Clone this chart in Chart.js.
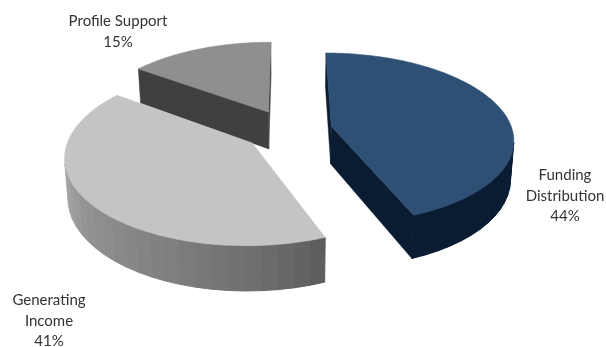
<!DOCTYPE html>
<html>
<head>
<meta charset="utf-8">
<style>
  html, body { margin: 0; padding: 0; background: #fff; }
  canvas { display: block; }
</style>
<script src="https://cdn.jsdelivr.net/npm/chart.js@4/dist/chart.umd.min.js"></script>
</head>
<body>
<canvas id="myChart" width="606" height="347"></canvas>
<script>
var categories = [['Funding', 'Distribution'], ['Generating', 'Income'], ['Profile Support']];
var shares = [44, 41, 15];
var topColors = ['#2e5075', '#c4c4c4', '#8f8f8f'];
var wallColors = ['#0a1c32', '#707070', '#404040'];

// grey level of the rim of the middle slice, by angle clockwise from 12 o'clock
var rimAngles = [158, 175, 200, 230, 262, 306];
var rimGreys = [92, 108, 126, 144, 170, 178];

// centre of each label block and the baseline of its first line
var labelSpots = [[565, 180], [49, 305], [118, 26]];

// camera for the tilted pie
var view = { x0: 288, y0: 130, a: 181, b: 84.4, k: 0.14, depth: 38, shrink: 0.985, pull: 0.245 };

function project(px, pz, low) {
  var w = 1 + view.k * pz;
  var x = view.a * px / w;
  var y = view.y0 - view.b * pz / w;
  if (low) {
    x = x * view.shrink;
    y = y + view.depth / w;
  }
  return { x: view.x0 + x, y: y };
}

function rimGrey(deg) {
  for (var i = 1; i < rimAngles.length; i++) {
    if (deg <= rimAngles[i]) {
      var t = (deg - rimAngles[i - 1]) / (rimAngles[i] - rimAngles[i - 1]);
      var g = Math.round(rimGreys[i - 1] + t * (rimGreys[i] - rimGreys[i - 1]));
      return 'rgb(' + g + ',' + g + ',' + g + ')';
    }
  }
  return 'rgb(178,178,178)';
}

function quadArea(p) {
  var sum = 0;
  for (var i = 0; i < p.length; i++) {
    var n = p[(i + 1) % p.length];
    sum += p[i].x * n.y - n.x * p[i].y;
  }
  return sum;
}

function fillPoly(ctx, pts, color, seam) {
  ctx.beginPath();
  ctx.moveTo(pts[0].x, pts[0].y);
  for (var i = 1; i < pts.length; i++) ctx.lineTo(pts[i].x, pts[i].y);
  ctx.closePath();
  ctx.fillStyle = color;
  ctx.strokeStyle = color;
  ctx.lineWidth = seam;
  ctx.fill();
  ctx.stroke();
}

// draws the arcs chart.js laid out as extruded, exploded wedges
var pie3d = {
  id: 'pie3d',
  beforeDatasetDraw: function (chart) {
    var ctx = chart.ctx;
    var arcs = chart.getDatasetMeta(0).data;

    // painted back to front
    [2, 1, 0].forEach(function (idx) {
      var arc = arcs[idx];
      var start = arc.startAngle + Math.PI / 2;
      var end = arc.endAngle + Math.PI / 2;
      var mid = (start + end) / 2;
      var ex = view.pull * Math.sin(mid);
      var ez = view.pull * Math.cos(mid);

      function rim(t, low) {
        return project(ex + Math.sin(t), ez + Math.cos(t), low);
      }
      var apex = project(ex, ez, false);
      var apexLow = project(ex, ez, true);

      // outer wall, in narrow facets
      var step = 4.5 * Math.PI / 180;
      var count = Math.ceil((end - start) / step);
      for (var i = 0; i < count; i++) {
        var a = start + (end - start) * i / count;
        var b = start + (end - start) * (i + 1) / count;
        var facet = [rim(a, false), rim(b, false), rim(b, true), rim(a, true)];
        if (quadArea(facet) > 0) continue;
        var deg = (a + b) / 2 * 180 / Math.PI;
        fillPoly(ctx, facet, idx === 1 ? rimGrey(deg) : wallColors[idx], 1);
      }

      // the two cut faces, only when they turn toward the camera
      var first = [apex, rim(start, false), rim(start, true), apexLow];
      if (quadArea(first) < 0) fillPoly(ctx, first, wallColors[idx], 0.5);
      var last = [apex, rim(end, false), rim(end, true), apexLow];
      if (quadArea(last) > 0) fillPoly(ctx, last, wallColors[idx], 0.5);

      // top face
      var top = [apex];
      var n = Math.ceil((end - start) * 180 / Math.PI);
      for (var j = 0; j <= n; j++) top.push(rim(start + (end - start) * j / n, false));
      fillPoly(ctx, top, arc.options.backgroundColor, 0.5);
    });

    // labels
    ctx.fillStyle = '#333333';
    ctx.font = '15px Lato';
    ctx.textAlign = 'center';
    ctx.textBaseline = 'alphabetic';
    categories.forEach(function (lines, idx) {
      var all = lines.concat([shares[idx] + '%']);
      all.forEach(function (line, k) {
        ctx.fillText(line, labelSpots[idx][0], labelSpots[idx][1] + k * 20.5);
      });
    });

    return false;
  }
};

new Chart('myChart', {
  type: 'pie',
  data: {
    labels: categories.map(function (c) { return c.join(' '); }),
    datasets: [{
      data: shares,
      backgroundColor: topColors,
      borderWidth: 0
    }]
  },
  options: {
    responsive: false,
    animation: false,
    rotation: 0,
    plugins: {
      legend: { display: false },
      tooltip: { enabled: false }
    }
  },
  plugins: [pie3d]
});
</script>
</body>
</html>
